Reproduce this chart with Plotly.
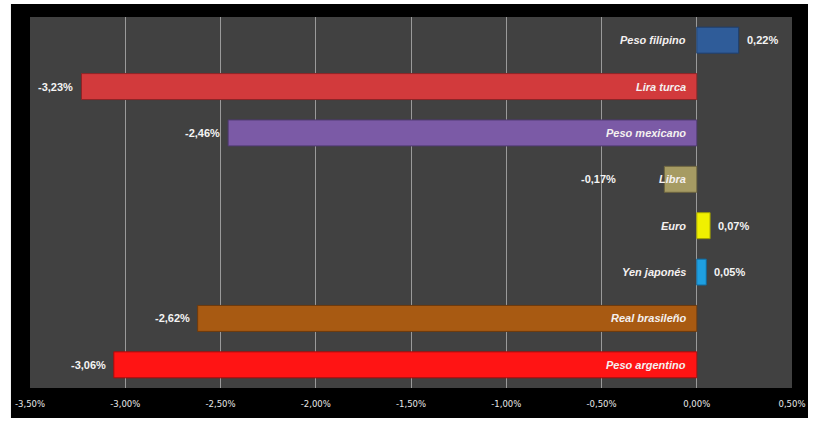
import plotly.graph_objects as go

categories = ["Peso filipino", "Lira turca", "Peso mexicano", "Libra", "Euro",
              "Yen japonés", "Real brasileño", "Peso argentino"]
values = [0.22, -3.23, -2.46, -0.17, 0.07, 0.05, -2.62, -3.06]
colors = ["#2F5C99", "#D23A3C", "#7B5AA6", "#A69B63", "#F0F000",
          "#1E9FE0", "#A85A12", "#FF1414"]
line_colors = ["#1F3F6E", "#8E2426", "#4F3A70", "#6E6640", "#A0A000",
               "#12679A", "#6E3A0C", "#A80C0C"]
tick_vals = [-3.5, -3.0, -2.5, -2.0, -1.5, -1.0, -0.5, 0.0, 0.5]
tick_text = ["-3,50%", "-3,00%", "-2,50%", "-2,00%", "-1,50%", "-1,00%", "-0,50%", "0,00%", "0,50%"]

def fmt(v):
    return ("%.2f" % v).replace(".", ",") + "%"

fig = go.Figure()
fig.add_trace(go.Bar(
    y=categories, x=values, orientation="h",
    marker=dict(color=colors, line=dict(color=line_colors, width=1)),
    hoverinfo="x+y",
))

px_per_unit = 762 / 4.0
annotations = []
for c, v in zip(categories, values):
    annotations.append(dict(
        x=0, y=c, xref="x", yref="y", text="<b><i>%s</i></b>" % c,
        showarrow=False, xanchor="right", xshift=-9,
        font=dict(family="Liberation Sans, Arial", size=11, color="#F4F0F0"),
    ))
    if v < 0:
        bar_px = -v * px_per_unit
        name_w = len(c) * 6.2 + 12
        shift = -6 if bar_px > name_w else -46
    else:
        shift = 6
    annotations.append(dict(
        x=v, y=c, xref="x", yref="y", text="<b>%s</b>" % fmt(v),
        showarrow=False, xanchor="right" if v < 0 else "left",
        xshift=shift,
        font=dict(family="Liberation Sans, Arial", size=11, color="#F4F4F4"),
    ))

shapes = [
    dict(type="rect", xref="paper", yref="paper", x0=-0.025, x1=1.021, y0=-0.081, y1=1.035,
         fillcolor="#000000", line=dict(width=0), layer="below"),
    dict(type="rect", xref="paper", yref="paper", x0=0, x1=1, y0=0, y1=1,
         fillcolor="#414141", line=dict(width=0), layer="below"),
]

fig.update_layout(
    width=829, height=425,
    margin=dict(l=30, r=37, t=17, b=37),
    paper_bgcolor="#FFFFFF", plot_bgcolor="#414141",
    showlegend=False, bargap=0.44,
    annotations=annotations, shapes=shapes,
    xaxis=dict(range=[-3.5, 0.5], tickvals=tick_vals, ticktext=tick_text,
               showgrid=True, gridcolor="#9A9A9A", gridwidth=1,
               zeroline=True, zerolinecolor="#9A9A9A", zerolinewidth=1,
               tickfont=dict(family="DejaVu Sans", size=8.5, color="#E8E8E8"),
               ticklabelstandoff=9,
               ticks="", showline=False, fixedrange=True),
    yaxis=dict(autorange="reversed", showticklabels=False, showgrid=False,
               zeroline=False, ticks="", showline=False, fixedrange=True),
)

fig.write_html("out.html")
